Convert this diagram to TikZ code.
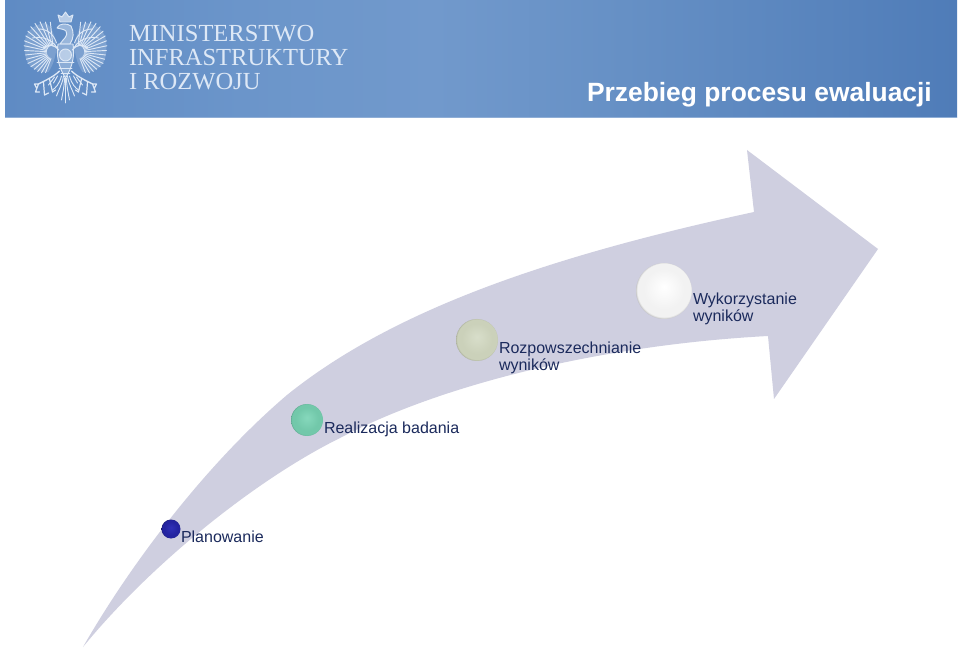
\documentclass[tikz,border=0pt]{standalone}
\usepackage{fontspec}
\setmainfont{Liberation Sans}
\newfontfamily\ministryfont{Liberation Serif}
\definecolor{arrowfill}{HTML}{CFCFE0}
\definecolor{labelink}{HTML}{1B2A5C}
\definecolor{crest}{HTML}{DDE8F6}
\definecolor{hdrA}{HTML}{5F8BC4}
\definecolor{hdrB}{HTML}{6B95CA}
\definecolor{hdrC}{HTML}{7199CC}
\definecolor{hdrD}{HTML}{6690C5}
\definecolor{hdrE}{HTML}{4F7CB8}
\definecolor{ballAin}{HTML}{3030B8}
\definecolor{ballAmid}{HTML}{2424A0}
\definecolor{ballAedge}{HTML}{14145A}
\definecolor{ballBin}{HTML}{86D8BC}
\definecolor{ballBmid}{HTML}{72C8AA}
\definecolor{ballBedge}{HTML}{4E8A78}
\definecolor{ballCin}{HTML}{D8DECA}
\definecolor{ballCmid}{HTML}{CBD1BA}
\definecolor{ballCedge}{HTML}{8A8E7A}
\definecolor{ballDin}{HTML}{FFFFFF}
\definecolor{ballDmid}{HTML}{F2F2F2}
\definecolor{ballDedge}{HTML}{8F8F8F}
\pgfdeclarehorizontalshading{headerband}{100bp}{color(0bp)=(hdrA); color(25bp)=(hdrA); color(37.5bp)=(hdrB); color(47.5bp)=(hdrC); color(57.5bp)=(hdrD); color(75bp)=(hdrE); color(100bp)=(hdrE)}
\newcommand{\declareball}[4]{\pgfdeclareradialshading{#1}{\pgfpoint{0bp}{4bp}}{color(0bp)=(#2); color(18bp)=(#3); color(24bp)=(#3); color(27bp)=(#4); color(30bp)=(#4)}}
\declareball{ballblue}{ballAin}{ballAmid}{ballAedge}
\declareball{ballteal}{ballBin}{ballBmid}{ballBedge}
\declareball{ballsage}{ballCin}{ballCmid}{ballCedge}
\declareball{ballwhite}{ballDin}{ballDmid}{ballDedge}
\tikzset{
  x=0.75pt,y=-0.75pt,
  steplabel/.style={inner sep=0pt,outer sep=0pt,text=labelink,align=left,anchor=north west,font=\fontsize{12}{13}\selectfont},
  ministry/.style={inner sep=0pt,outer sep=0pt,anchor=base west,text=crest,font=\ministryfont\fontsize{18.4}{20}\selectfont},
  feather/.style={draw=crest,line width=0.7pt,line cap=round},
  crestline/.style={draw=crest,line width=0.7pt,line join=round,line cap=round},
  ball/.style={circle,inner sep=0pt,outer sep=0pt,shading=#1},
}
\begin{document}
\begin{tikzpicture}
\useasboundingbox (0,0) rectangle (960,648);
\fill[white] (0,0) rectangle (960,648);
% header
\shade[shading=headerband] (5,1) rectangle (957,118);
\fill[hdrA!70!white] (5,117) rectangle (957,118.5);
% eagle: mirrored parts
\foreach \s in {1,-1}{
\begin{scope}[shift={(65.5,0)},xscale=\s]
  % wing body
  \fill[crest,opacity=0.22] (9,48) .. controls (10,36) and (14,26) .. (20,23) .. controls (30,24) and (38,30) .. (40,38) .. controls (42,48) and (41,58) .. (37,64) .. controls (32,70) and (25,73) .. (17,72) .. controls (13,66) and (10,58) .. (9,48) -- cycle;
  % long feathers
  \foreach \a/\l in {-84/30,-75/31,-66/33,-57/34,-48/34,-39/33,-30/32,-21/31,-12/30,-3/29,6/28,15/28,24/28,33/27,42/26,51/25,60/24,69/22}{
    \draw[feather] (12,52) ++(\a:7) -- ++(\a:\l-7);
  }
  % wing band
  \draw[crestline,line width=1pt] (7,50) .. controls (11,44) and (17,44) .. (22,48);
  \draw[crestline] (9,43) .. controls (12,34) and (18,29) .. (27,29);
  \draw[crestline] (9,47) .. controls (14,39) and (24,36) .. (33,38);
  % legs and claws
  \draw[crestline,line width=1pt] (6,71) .. controls (11,76) and (19,80) .. (27,84);
  \draw[crestline,line width=0.9pt] (27,84) -- (31,84) -- (29,88) (27,84) -- (30,92) -- (26,92) (22,82) -- (21,95) -- (17,93) (16,79) -- (13,92) -- (10,90);
  \draw[feather] (8,76) -- (12,83) (11,77) -- (17,85);
  % tail
  \draw[crestline] (2,76) .. controls (3,84) and (7,90) .. (9,96);
  \draw[crestline] (4,76) .. controls (6,84) and (10,88) .. (13,90);
  \draw[crestline] (1,78) .. controls (1,86) and (3,94) .. (4,100);
\end{scope}}
% body, head, crown
\draw[crestline,fill=crest,fill opacity=0.35] (58,44) .. controls (56,56) and (59,68) .. (65.5,78) .. controls (72,68) and (75,56) .. (73,44) -- cycle;
\draw[crestline,fill=crest,fill opacity=0.55] (65.5,55) circle[radius=6];
\draw[feather] (57,62) -- (74,62) (59,68) -- (72,68) (61,73) -- (70,73) (65.5,78) -- (65.5,103);
\draw[crestline,fill=crest,fill opacity=0.45] (60,44) .. controls (63,39) and (69,36) .. (66,31) .. controls (64,29) and (60,29) .. (57,28) .. controls (59,23) and (67,23) .. (71,26) .. controls (74,32) and (74,38) .. (70,44) -- cycle;
\draw[crestline,fill=crest,fill opacity=0.7] (60,22) -- (58,15) -- (62,17) -- (65.5,12) -- (69,17) -- (73,15) -- (71,22) -- cycle;
% ministry name
\node[ministry] (m1) at (129,42) {MINISTERSTWO};
\node[ministry] (m2) at (129,66) {INFRASTRUKTURY};
\node[ministry] (m3) at (129,90) {I ROZWOJU};
% title
\node[inner sep=0pt,outer sep=0pt,anchor=base west,text=white,font=\bfseries\fontsize{19.8}{22}\selectfont] (title) at (587,102) {Przebieg procesu ewaluacji};
% big arrow
\fill[arrowfill] (83,647) .. controls (130,565) and (205,465) .. (287,395)
  .. controls (395,308) and (555,255) .. (754,212)
  -- (747,150) -- (878,249) -- (774,399) -- (768,336)
  .. controls (600,345) and (440,385) .. (340,438)
  .. controls (255,480) and (150,565) .. (83,647) -- cycle;
% balls
\node[ball=ballblue,minimum size=14.25pt] (b1) at (171,529) {};
\node[ball=ballteal,minimum size=24pt] (b2) at (307,420) {};
\node[ball=ballsage,minimum size=31.5pt] (b3) at (477,340) {};
\node[ball=ballwhite,minimum size=42pt] (b4) at (664,291) {};
% labels
\node[steplabel] (l1) at (181,530.5) {Planowanie};
\node[steplabel] (l2) at (324,421.5) {Realizacja badania};
\node[steplabel] (l3) at (499,341.5) {Rozpowszechnianie\\wyników};
\node[steplabel] (l4) at (693,292.5) {Wykorzystanie\\wyników};
\end{tikzpicture}
\end{document}
